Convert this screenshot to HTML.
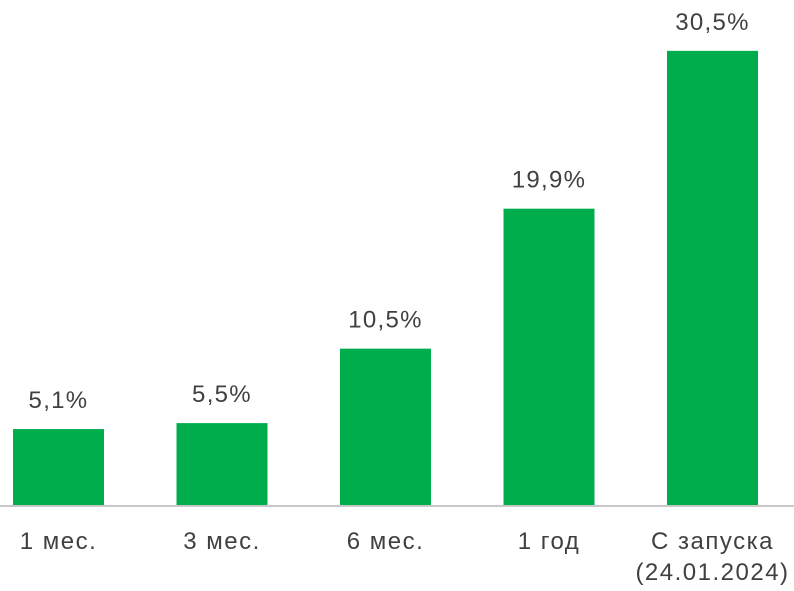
<!DOCTYPE html>
<html><head><meta charset="utf-8"><style>
html,body{margin:0;padding:0;background:#fff;}
svg{display:block;font-family:"Liberation Sans",sans-serif;}
</style></head><body>
<svg id="chart" width="794" height="591">
<line x1="0" y1="506" x2="794" y2="506" stroke="#c8c8c8" stroke-width="2"/>
<g id="bars"></g>
</svg>
<script>
const categories = [["1 мес."],["3 мес."],["6 мес."],["1 год"],["С запуска","(24.01.2024)"]];
const values = [5.1, 5.5, 10.5, 19.9, 30.5];
const valueLabels = ["5,1%","5,5%","10,5%","19,9%","30,5%"];

const baseY = 505, pxPerUnit = 14.89, firstCenter = 58.5, step = 163.5, barW = 91;
function xCenter(i){ return firstCenter + i*step; }
function yScale(v){ return baseY - v*pxPerUnit; }
const g = document.getElementById('bars');
const NS = 'http://www.w3.org/2000/svg';
values.forEach((v,i)=>{
  const r = document.createElementNS(NS,'rect');
  r.setAttribute('x', xCenter(i)-barW/2);
  r.setAttribute('y', yScale(v));
  r.setAttribute('width', barW);
  r.setAttribute('height', baseY - yScale(v));
  r.setAttribute('fill', '#00ad4d');
  
  
  g.appendChild(r);
  const t = document.createElementNS(NS,'text');
  t.setAttribute('x', xCenter(i));
  t.setAttribute('y', yScale(v)-21);
  t.setAttribute('text-anchor','middle');
  t.setAttribute('font-size','24');
  t.setAttribute('letter-spacing','1.3');
  t.setAttribute('fill','#404040');
  t.textContent = valueLabels[i];
  
  
  g.appendChild(t);
  categories[i].forEach((line,j)=>{
    const c = document.createElementNS(NS,'text');
    c.setAttribute('x', xCenter(i));
    c.setAttribute('y', 549 + j*31);
    c.setAttribute('text-anchor','middle');
    c.setAttribute('font-size','24');
    c.setAttribute('letter-spacing','1.5');
    c.setAttribute('fill','#404040');
    c.textContent = line;
    
    
    g.appendChild(c);
  });
});
</script>
</body></html>
